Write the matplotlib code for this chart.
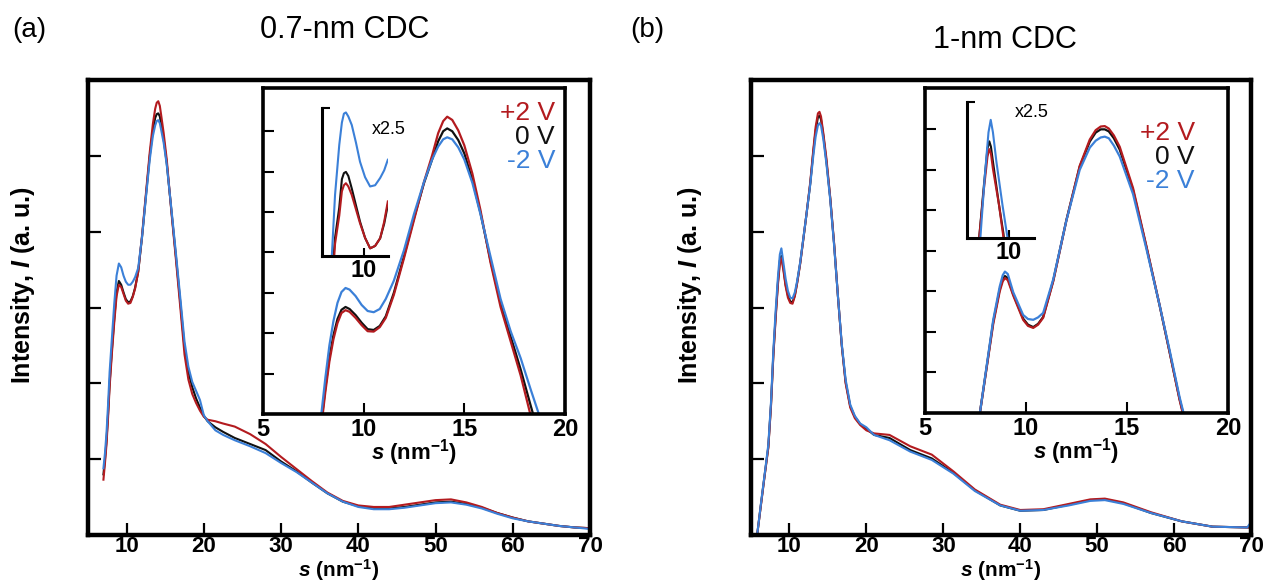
import matplotlib
matplotlib.use("Agg")
import matplotlib.pyplot as plt

plt.rcParams["font.family"] = ["Liberation Sans", "DejaVu Sans"]
plt.rcParams["mathtext.fontset"] = "custom"
plt.rcParams["mathtext.rm"] = "Liberation Sans:bold"
plt.rcParams["mathtext.bf"] = "Liberation Sans:bold"
plt.rcParams["mathtext.it"] = "Liberation Sans:italic:bold"

RED = "#b31b1f"
BLACK = "#111111"
BLUE = "#3b80d8"

# ---- panel (a): 0.7-nm CDC, full range ----
s_a = [7.0, 7.2, 7.4, 7.6, 7.8, 8.1, 8.4, 8.7, 9.0, 9.3, 9.6, 9.9, 10.2, 10.5, 10.8,
       11.1, 11.5, 12.0, 12.5, 13.0, 13.4, 13.7, 13.9, 14.1, 14.3, 14.5, 14.8, 15.2,
       15.8, 16.4, 17.0, 17.5, 18.0, 18.5, 19.0, 19.5, 20.0, 20.5, 21.5, 22.5, 24, 26,
       28, 30, 32, 34, 36, 38, 40, 42, 44, 46, 48, 50, 52, 54, 56, 58, 60, 62, 64, 66,
       68, 70]
red_a = [0.73, 0.95, 1.2, 1.55, 1.95, 2.4, 2.8, 3.15, 3.3, 3.27, 3.18, 3.09, 3.05, 3.06,
         3.14, 3.25, 3.47, 3.95, 4.5, 5.05, 5.42, 5.62, 5.7, 5.72, 5.66, 5.52, 5.3, 4.95,
         4.26, 3.62, 2.95, 2.38, 2.05, 1.86, 1.74, 1.64, 1.56, 1.52, 1.5, 1.47, 1.43, 1.33,
         1.2, 1.03, 0.87, 0.71, 0.56, 0.45, 0.39, 0.37, 0.37, 0.40, 0.43, 0.46, 0.47, 0.43,
         0.37, 0.29, 0.23, 0.18, 0.15, 0.12, 0.10, 0.09]
black_a = [0.8, 1.0, 1.25, 1.6, 2.0, 2.45, 2.85, 3.2, 3.35, 3.3, 3.2, 3.11, 3.07, 3.08,
           3.15, 3.26, 3.47, 3.93, 4.47, 5.0, 5.33, 5.5, 5.55, 5.56, 5.52, 5.4, 5.22, 4.9,
           4.28, 3.66, 3.02, 2.47, 2.15, 1.95, 1.8, 1.68, 1.57, 1.5, 1.42, 1.36, 1.28, 1.2,
           1.12, 0.97, 0.84, 0.69, 0.55, 0.44, 0.38, 0.35, 0.35, 0.37, 0.40, 0.43, 0.44,
           0.41, 0.36, 0.29, 0.23, 0.18, 0.15, 0.12, 0.10, 0.09]
blue_a = [0.88, 1.08, 1.35, 1.72, 2.15, 2.6, 3.05, 3.42, 3.58, 3.53, 3.42, 3.34, 3.3, 3.3,
          3.34, 3.4, 3.52, 3.93, 4.45, 4.95, 5.26, 5.4, 5.46, 5.47, 5.43, 5.33, 5.17, 4.88,
          4.3, 3.7, 3.08, 2.55, 2.22, 2.02, 1.9, 1.78, 1.58, 1.5, 1.38, 1.32, 1.25, 1.17,
          1.08, 0.95, 0.83, 0.69, 0.55, 0.44, 0.37, 0.34, 0.34, 0.36, 0.39, 0.42, 0.43,
          0.40, 0.35, 0.28, 0.22, 0.18, 0.15, 0.12, 0.10, 0.08]

# inset of (a)
s_ia = [7.9, 8.1, 8.3, 8.5, 8.7, 8.9, 9.1, 9.3, 9.6, 9.9, 10.2, 10.5, 10.8, 11.1, 11.5,
        12.0, 12.5, 13.0, 13.4, 13.7, 13.95, 14.15, 14.4, 14.7, 15.0, 15.4, 15.8, 16.3,
        16.8, 17.3, 17.8, 18.3, 18.7]
red_ia = [-0.3, 0.55, 1.3, 1.85, 2.25, 2.5, 2.57, 2.53, 2.38, 2.2, 2.05, 2.04, 2.15, 2.38,
          2.95, 3.85, 4.8, 5.75, 6.4, 6.95, 7.25, 7.36, 7.28, 7.02, 6.65, 5.95, 5.05, 3.75,
          2.65, 1.8, 0.95, -0.05, -0.8]
black_ia = [-0.2, 0.65, 1.4, 1.95, 2.35, 2.58, 2.65, 2.6, 2.45, 2.26, 2.1, 2.08, 2.18, 2.42,
            3.0, 3.9, 4.85, 5.72, 6.3, 6.75, 7.0, 7.07, 7.0, 6.78, 6.45, 5.8, 4.98, 3.8,
            2.75, 1.92, 1.1, 0.2, -0.5]
blue_ia = [0.0, 0.9, 1.7, 2.3, 2.75, 3.02, 3.12, 3.08, 2.92, 2.7, 2.55, 2.52, 2.6, 2.85,
           3.3, 4.05, 4.95, 5.75, 6.3, 6.62, 6.8, 6.85, 6.8, 6.6, 6.3, 5.72, 4.95, 3.9,
           2.85, 2.05, 1.38, 0.6, 0.0]

# x2.5 magnified view inside the (a) inset
s_na = [8.4, 8.56, 8.77, 8.9, 9.0, 9.1, 9.22, 9.39, 9.6, 9.8, 10.05, 10.3, 10.55, 10.8,
        11.0, 11.18]
red_na = [-0.9, 0.3, 1.0, 1.6, 1.75, 1.8, 1.72, 1.51, 1.15, 0.81, 0.45, 0.19, 0.25, 0.44,
          0.85, 1.35]
black_na = [-0.6, 0.45, 1.2, 1.9, 2.05, 2.08, 1.98, 1.67, 1.25, 0.85, 0.45, 0.19, 0.25,
            0.44, 0.8, 1.26]
blue_na = [0.0, 1.51, 2.75, 3.3, 3.52, 3.55, 3.45, 3.24, 2.8, 2.33, 1.95, 1.72, 1.75, 1.93,
           2.12, 2.38]

# ---- panel (b): 1-nm CDC ----
s_b = [5.8, 6.3, 6.8, 7.25, 7.6, 7.9, 8.2, 8.5, 8.75, 8.95, 9.2, 9.5, 9.8, 10.1, 10.4,
       10.7, 11.0, 11.4, 11.8, 12.2, 12.7, 13.1, 13.4, 13.7, 13.9, 14.1, 14.4, 14.8, 15.3,
       15.8, 16.3, 16.8, 17.3, 17.9, 18.5, 19.2, 20.0, 21, 23, 25.7, 28.5, 31.3, 34.1,
       37.4, 40, 43, 46.3, 49.1, 51, 53.4, 57, 61, 65, 69.5, 70]
red_b = [0, 0.4, 0.8, 1.15, 1.7, 2.35, 2.85, 3.3, 3.58, 3.65, 3.5, 3.28, 3.13, 3.06, 3.05,
         3.15, 3.32, 3.58, 3.9, 4.22, 4.65, 5.08, 5.38, 5.56, 5.58, 5.52, 5.3, 4.97, 4.45,
         3.85, 3.15, 2.5, 2.0, 1.68, 1.54, 1.45, 1.38, 1.34, 1.32, 1.17, 1.06, 0.84, 0.6,
         0.40, 0.33, 0.34, 0.41, 0.47, 0.48, 0.43, 0.3, 0.18, 0.11, 0.1, 0.1]
black_b = [0, 0.41, 0.81, 1.16, 1.72, 2.37, 2.88, 3.33, 3.62, 3.68, 3.53, 3.3, 3.16, 3.08,
           3.07, 3.16, 3.33, 3.59, 3.9, 4.22, 4.63, 5.05, 5.33, 5.51, 5.53, 5.48, 5.27,
           4.93, 4.44, 3.84, 3.15, 2.5, 2.02, 1.7, 1.56, 1.46, 1.4, 1.32, 1.28, 1.12, 1.01,
           0.82, 0.59, 0.39, 0.32, 0.33, 0.40, 0.46, 0.47, 0.42, 0.29, 0.18, 0.11, 0.1, 0.1]
blue_b = [0, 0.42, 0.82, 1.19, 1.75, 2.42, 2.95, 3.4, 3.7, 3.78, 3.6, 3.38, 3.22, 3.13,
          3.12, 3.2, 3.35, 3.6, 3.91, 4.22, 4.62, 5.0, 5.25, 5.4, 5.43, 5.4, 5.22, 4.9,
          4.42, 3.82, 3.15, 2.52, 2.05, 1.72, 1.57, 1.47, 1.42, 1.32, 1.25, 1.10, 0.99,
          0.81, 0.58, 0.39, 0.32, 0.33, 0.39, 0.45, 0.46, 0.41, 0.29, 0.18, 0.11, 0.1, 0.17]

# inset of (b)
s_ib = [7.72, 8.05, 8.38, 8.7, 8.85, 8.96, 9.1, 9.37, 9.86, 10.1, 10.36, 10.6, 10.85,
        11.35, 12.0, 12.66, 13.16, 13.45, 13.7, 13.9, 14.1, 14.35, 14.64, 15.3, 15.96,
        16.62, 17.11, 17.6, 17.9]
red_ib = [0, 1.1, 2.2, 3.0, 3.25, 3.33, 3.28, 2.9, 2.3, 2.15, 2.1, 2.18, 2.35, 3.25, 4.75,
          6.1, 6.75, 6.98, 7.07, 7.08, 7.02, 6.85, 6.57, 5.55, 4.12, 2.65, 1.5, 0.33, -0.3]
black_ib = [0, 1.12, 2.25, 3.05, 3.3, 3.38, 3.33, 2.93, 2.33, 2.18, 2.12, 2.2, 2.37, 3.27,
            4.76, 6.08, 6.7, 6.92, 7.0, 7.0, 6.95, 6.78, 6.5, 5.5, 4.1, 2.64, 1.5, 0.35,
            -0.25]
blue_ib = [0, 1.15, 2.3, 3.12, 3.4, 3.49, 3.43, 2.98, 2.42, 2.32, 2.3, 2.36, 2.47, 3.3,
           4.75, 6.0, 6.55, 6.72, 6.8, 6.82, 6.78, 6.6, 6.33, 5.4, 4.05, 2.65, 1.55, 0.4,
           -0.2]

s_nb_blue = [8.5, 8.6, 8.81, 9.0, 9.11, 9.22, 9.39, 9.69, 9.94, 10.05]
blue_nb = [-0.6, 0.0, 1.47, 2.6, 2.91, 2.6, 1.88, 0.81, 0.0, -0.5]
s_nb = [8.45, 8.54, 8.76, 8.95, 9.04, 9.12, 9.22, 9.52, 9.74, 9.85]
black_nb = [-0.6, 0.0, 1.22, 2.2, 2.38, 2.25, 1.88, 0.81, 0.1, -0.5]
red_nb = [-0.6, 0.0, 1.14, 2.0, 2.19, 2.08, 1.7, 0.81, 0.0, -0.5]

main_ticks = [10, 20, 30, 40, 50, 60, 70]
inset_ticks = [5, 10, 15, 20]
legend = [("+2 V", RED), ("0 V", BLACK), ("-2 V", BLUE)]
XLAB = r"$s$ (nm$^{-1}$)"
YLAB = r"Intensity, $I$ (a. u.)"


def plot_three(ax, x, r, k, b, lw):
    ax.plot(x, k, color=BLACK, lw=lw, solid_joinstyle="round")
    ax.plot(x, r, color=RED, lw=lw, solid_joinstyle="round")
    ax.plot(x, b, color=BLUE, lw=lw, solid_joinstyle="round")


def main_axes(rect, x, r, k, b):
    ax = fig.add_axes(rect)
    plot_three(ax, x, r, k, b, 1.5)
    ax.set_xlim(5, 70)
    ax.set_ylim(0, 6)
    ax.set_xticks(main_ticks)
    ax.set_xticklabels([str(t) for t in main_ticks], fontweight="bold", fontsize=16)
    ax.set_yticks([1, 2, 3, 4, 5])
    ax.set_yticklabels([])
    ax.tick_params(direction="in", length=9, width=1.6, pad=1)
    for sp in ax.spines.values():
        sp.set_linewidth(3.2)
    ax.set_xlabel(XLAB, fontsize=15, fontweight="bold", labelpad=0)
    return ax


def inset_axes(rect, x, r, k, b, leg_x, leg_y, ylim):
    ax = fig.add_axes(rect)
    plot_three(ax, x, r, k, b, 1.6)
    ax.set_xlim(5, 20)
    ax.set_ylim(0, ylim)
    ax.set_xticks(inset_ticks)
    ax.set_xticklabels([str(t) for t in inset_ticks], fontweight="bold", fontsize=17)
    ax.set_yticks(range(1, 8))
    ax.set_yticklabels([])
    ax.tick_params(direction="in", length=8, width=1.5, pad=3)
    for sp in ax.spines.values():
        sp.set_linewidth(2.6)
    ax.set_xlabel(XLAB, fontsize=16, fontweight="bold", labelpad=-3)
    for i, (txt, col) in enumerate(legend):
        ax.text(leg_x, leg_y - i * 0.074, txt, color=col, fontsize=19,
                ha="right", va="center", transform=ax.transAxes)
    return ax


def nested_axes(rect, xlim, ylim, series):
    ax = fig.add_axes(rect)
    for x, y, col in series:
        ax.plot(x, y, color=col, lw=1.5, solid_joinstyle="round")
    ax.set_xlim(*xlim)
    ax.set_ylim(0, ylim)
    ax.spines["top"].set_visible(False)
    ax.spines["right"].set_visible(False)
    for sp in ("left", "bottom"):
        ax.spines[sp].set_linewidth(2.2)
    ax.set_xticks([10])
    ax.set_xticklabels(["10"], fontweight="bold", fontsize=17)
    ax.set_yticks([ylim])
    ax.set_yticklabels([])
    ax.tick_params(direction="in", length=6, width=1.5, pad=2)
    ax.patch.set_alpha(0)
    return ax


fig = plt.figure(figsize=(12.66, 5.86), dpi=100)

main_axes([0.0695, 0.087, 0.3965, 0.7765], s_a, red_a, black_a, blue_a)
ia = inset_axes([0.2077, 0.2935, 0.2386, 0.5563], s_ia, red_ia, black_ia, blue_ia,
                0.967, 0.923, 8.07)
ia.text(0.361, 0.874, "x2.5", fontsize=13, ha="left", va="center", transform=ia.transAxes)
nested_axes([0.2543, 0.5631, 0.0522, 0.2526], (7.91, 11.19), 3.66,
            [(s_na, black_na, BLACK), (s_na, red_na, RED), (s_na, blue_na, BLUE)])

main_axes([0.5932, 0.087, 0.3950, 0.7765], s_b, red_b, black_b, blue_b)
ib = inset_axes([0.7306, 0.2952, 0.2394, 0.5546], s_ib, red_ib, black_ib, blue_ib,
                0.891, 0.862, 8.02)
ib.text(0.297, 0.926, "x2.5", fontsize=13, ha="left", va="center", transform=ib.transAxes)
nested_axes([0.7638, 0.5939, 0.0529, 0.2321], (7.94, 11.24), 3.35,
            [(s_nb, black_nb, BLACK), (s_nb, red_nb, RED), (s_nb_blue, blue_nb, BLUE)])

fig.text(0.0095, 0.949, "(a)", fontsize=20, ha="left", va="center")
fig.text(0.2725, 0.949, "0.7-nm CDC", fontsize=22, ha="center", va="center")
fig.text(0.4976, 0.949, "(b)", fontsize=20, ha="left", va="center")
fig.text(0.794, 0.932, "1-nm CDC", fontsize=22, ha="center", va="center")
fig.text(0.018, 0.514, YLAB, fontsize=18, fontweight="bold", rotation=90,
         ha="center", va="center")
fig.text(0.545, 0.514, YLAB, fontsize=18, fontweight="bold", rotation=90,
         ha="center", va="center")

fig.savefig("out.png", dpi=100)
